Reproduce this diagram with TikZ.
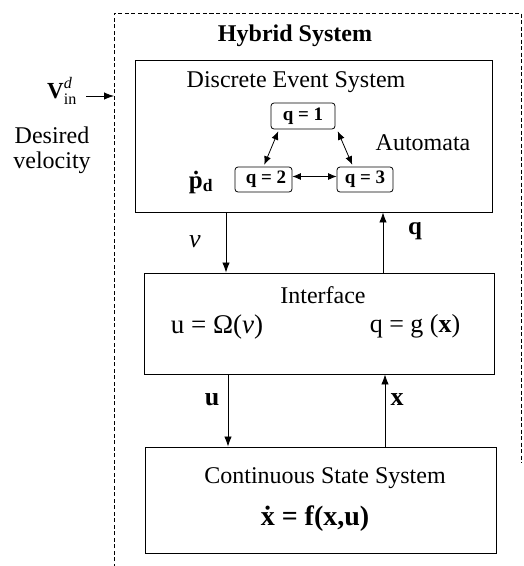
\documentclass[tikz,border=0pt]{standalone}
\usepackage{fontspec}
\setmainfont{Liberation Serif}
\usetikzlibrary{arrows.meta}
\begin{document}
\begin{tikzpicture}[x=1pt,y=-1pt,
  box/.style={draw,line width=0.9pt,inner sep=0pt},
  sbox/.style={draw,line width=0.8pt,rounded corners=3pt,inner sep=0pt,font=\fontsize{19}{22}\selectfont\bfseries},
  arr/.style={line width=0.8pt,-{Latex[length=10pt,width=7.5pt]}},
  dbl/.style={line width=0.8pt,{Latex[length=8.5pt,width=7pt]}-{Latex[length=8.5pt,width=7pt]},shorten <=2pt,shorten >=2pt},
  txt/.style={font=\fontsize{24}{28}\selectfont,inner sep=0pt,anchor=base},
  frame/.style={line width=0.7pt,dash pattern=on 4pt off 2.5pt}]
\useasboundingbox (0,0) rectangle (524,566);

% dashed frame of the hybrid system
\coordinate (hybBL) at (114,600);
\coordinate (hybTL) at (114,13);
\coordinate (hybTR) at (521,13);
\coordinate (hybR)  at (521,463);
\draw[frame] (hybBL) -- (hybTL) -- (hybTR) -- (hybR);
\node[txt,font=\fontsize{24}{28}\selectfont\bfseries] (hyt) at (295,41) {Hybrid System};

% main blocks
\node[box,minimum width=357pt,minimum height=152pt] (des) at (313.5,136) {};
\node[box,minimum width=350pt,minimum height=101pt] (int) at (319,323.5) {};
\node[box,minimum width=351pt,minimum height=106pt] (css) at (320.5,500) {};

% discrete event system
\node[txt] (dest) at (296,87) {Discrete Event System};
\node[txt] (aut) at (423,150) {Automata};
\node[sbox,minimum width=64pt,minimum height=26pt] (q1) at (303,116) {q = 1};
\node[sbox,minimum width=57pt,minimum height=25pt] (q2) at (263.5,179.5) {\hspace{5pt}q = 2};
\node[sbox,minimum width=56pt,minimum height=25pt] (q3) at (365,179.5) {q = 3\hspace{12pt}};
\draw[dbl] ([xshift=-24pt]q1.south) -- (q2.north);
\draw[dbl] ([xshift=34pt]q1.south) -- ([xshift=-12pt]q3.north);
\draw[dbl,shorten <=0pt,shorten >=0pt] ([yshift=3pt]q2.east) -- ([yshift=3pt]q3.west);
\node[txt,font=\fontsize{25}{28}\selectfont\bfseries] (pd) at (201,188) {\.{p}\textsubscript{d}};

% input
\node[txt,font=\fontsize{23}{26}\selectfont] (vin) at (62,98) {$\mathbf{V}^{\mathit{d}}_{\mathrm{in}}$};
\node[txt] (des1) at (52,143) {Desired};
\node[txt] (des2) at (52,168) {velocity};
\coordinate (vst) at (86,96);
\draw[arr] (vst) -- (vst -| hybTL);

% interface
\node[txt] (intt) at (323,303) {Interface};
\node[txt,font=\fontsize{27}{30}\selectfont] (om) at (217,333) {u = Ω(\textit{ν})};
\node[txt,font=\fontsize{26}{30}\selectfont] (gx) at (415,332) {q = g (\textbf{x})};

% continuous
\node[txt] (csst) at (325,483) {Continuous State System};
\node[txt,font=\fontsize{28}{32}\selectfont\bfseries] (fx) at (315,525) {\.{x} = f(x,u)};

% connectors between blocks
\draw[arr] ([xshift=-87.5pt]des.south) coordinate (a1) -- (a1 |- int.north);
\draw[arr] ([xshift=64pt]int.north) coordinate (a2) -- (a2 |- des.south);
\draw[arr] ([xshift=-91pt]int.south) coordinate (a3) -- (a3 |- css.north);
\draw[arr] ([xshift=64.5pt]css.north) coordinate (a4) -- (a4 |- int.south);

% connector labels
\node[txt,font=\fontsize{26}{30}\selectfont\itshape] (lnu) at (195,247) {ν};
\node[txt,font=\fontsize{25}{30}\selectfont\bfseries] (lq) at (415,234) {q};
\node[txt,font=\fontsize{26}{30}\selectfont\bfseries] (lu) at (212,405) {u};
\node[txt,font=\fontsize{26}{30}\selectfont\bfseries] (lx) at (397,405) {x};
\end{tikzpicture}
\end{document}
